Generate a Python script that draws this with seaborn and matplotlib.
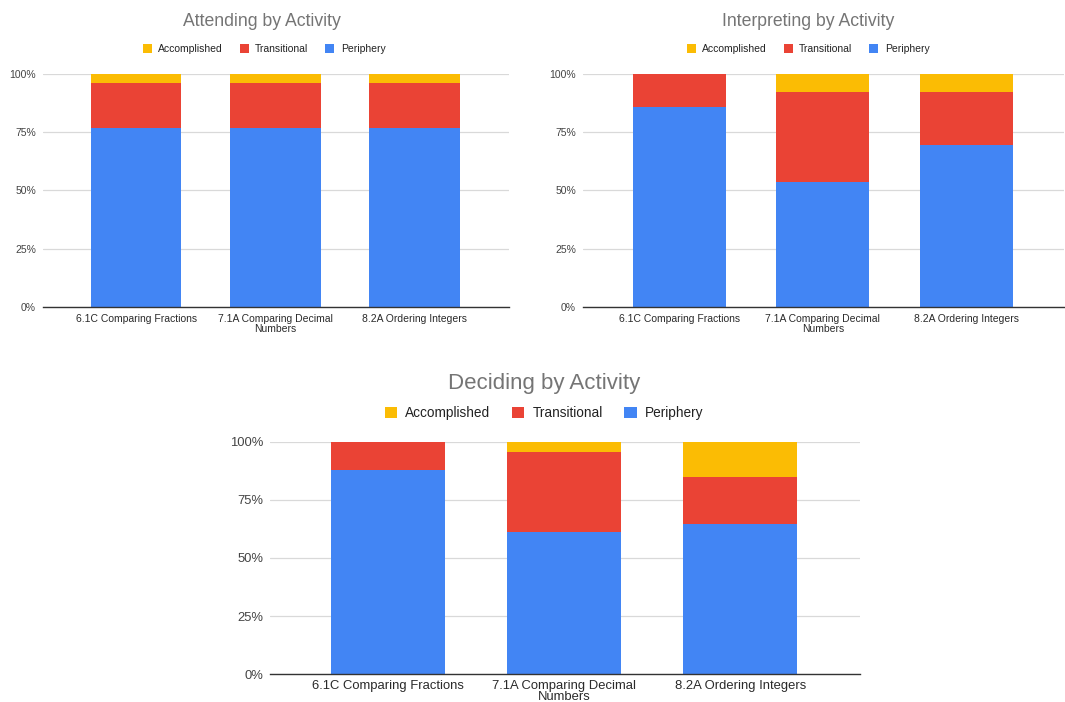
import textwrap

import matplotlib
matplotlib.use("Agg")
import matplotlib.pyplot as plt
from matplotlib.patches import Patch
from matplotlib.ticker import FuncFormatter
import numpy as np
import pandas as pd
import seaborn as sns

# Activities shown on every chart
activities = [
    "6.1C Comparing Fractions",
    "7.1A Comparing Decimal Numbers",
    "8.2A Ordering Integers",
]

# Share of students (%) in each level, per activity
attending_periphery = [76.9, 76.9, 76.9]
attending_transitional = [19.2, 19.2, 19.2]
attending_accomplished = [3.9, 3.9, 3.9]

interpreting_periphery = [85.7, 53.8, 69.7]
interpreting_transitional = [14.3, 38.5, 22.6]
interpreting_accomplished = [0.0, 7.7, 7.7]

deciding_periphery = [88.0, 61.3, 64.5]
deciding_transitional = [12.0, 34.4, 20.2]
deciding_accomplished = [0.0, 4.3, 15.3]

levels = ["Accomplished", "Transitional", "Periphery"]
colors = {"Accomplished": "#FBBC04", "Transitional": "#EA4335", "Periphery": "#4285F4"}

sns.set_theme(style="white")
plt.rcParams["font.family"] = ["Liberation Sans", "DejaVu Sans"]

fig = plt.figure(figsize=(10.65, 7.02), dpi=100)


def draw_chart(rect, title, periphery, transitional, accomplished,
               title_xy, legend_xy, title_size, tick_size, legend_size, xpad,
               spacing):
    ax = fig.add_axes(rect)
    df = pd.DataFrame({
        "activity": activities,
        "Periphery": periphery,
        "Transitional": transitional,
        "Accomplished": accomplished,
    })
    df["top_transitional"] = df["Periphery"] + df["Transitional"]
    df["top_accomplished"] = df["top_transitional"] + df["Accomplished"]

    # Stacked bars: draw cumulative totals from the top layer down
    for col, level in [("top_accomplished", "Accomplished"),
                       ("top_transitional", "Transitional"),
                       ("Periphery", "Periphery")]:
        sns.barplot(data=df, x="activity", y=col, color=colors[level],
                    width=0.65, saturation=1, ax=ax, errorbar=None,
                    linewidth=0, zorder=3)

    ax.set_xlim(-0.67, 2.68)
    ax.set_ylim(0, 100)
    ax.set_yticks([0, 25, 50, 75, 100])
    ax.yaxis.set_major_formatter(FuncFormatter(lambda v, _: f"{int(v)}%"))
    ax.set_xticks(range(len(activities)))
    ax.set_xticklabels([textwrap.fill(a, 24) for a in activities],
                       fontsize=tick_size, color="#2a2a2a", linespacing=spacing)
    ax.tick_params(axis="y", labelsize=tick_size, labelcolor="#444444",
                   length=0, pad=5)
    ax.tick_params(axis="x", length=0, pad=xpad)
    ax.set_xlabel("")
    ax.set_ylabel("")
    ax.grid(axis="y", color="#d9d9d9", linewidth=0.9, zorder=0)
    ax.set_axisbelow(True)
    for side in ["top", "right", "left"]:
        ax.spines[side].set_visible(False)
    ax.spines["bottom"].set_color("#333333")
    ax.spines["bottom"].set_linewidth(1.0)
    ax.spines["bottom"].set_zorder(5)

    fig.text(title_xy[0], title_xy[1], title, ha="center", va="center",
             fontsize=title_size, color="#757575")
    handles = [Patch(facecolor=colors[l], edgecolor="none", label=l) for l in levels]
    fig.legend(handles=handles, loc="center", bbox_to_anchor=legend_xy,
               ncol=3, frameon=False, fontsize=legend_size,
               handlelength=0.9, handleheight=0.9, handletextpad=0.6,
               columnspacing=1.6, labelcolor="#222222")
    return ax


W, H = 1065, 702

draw_chart([43 / W, 1 - 306.7 / H, 466 / W, 232.7 / H],
           "Attending by Activity",
           attending_periphery, attending_transitional, attending_accomplished,
           (262 / W, 1 - 22 / H), (264 / W, 1 - 49 / H), 12.7, 7.5, 7.5, 5.5, 0.95)

draw_chart([583 / W, 1 - 306.7 / H, 481 / W, 232.7 / H],
           "Interpreting by Activity",
           interpreting_periphery, interpreting_transitional, interpreting_accomplished,
           (808 / W, 1 - 22 / H), (808 / W, 1 - 49 / H), 12.7, 7.5, 7.5, 5.5, 0.95)

draw_chart([270 / W, 1 - 674.3 / H, 590 / W, 232.6 / H],
           "Deciding by Activity",
           deciding_periphery, deciding_transitional, deciding_accomplished,
           (544 / W, 1 - 383 / H), (544 / W, 1 - 413 / H), 16, 9.4, 9.8, 4.0, 0.9)

fig.savefig("out.png", dpi=100, facecolor="white")
